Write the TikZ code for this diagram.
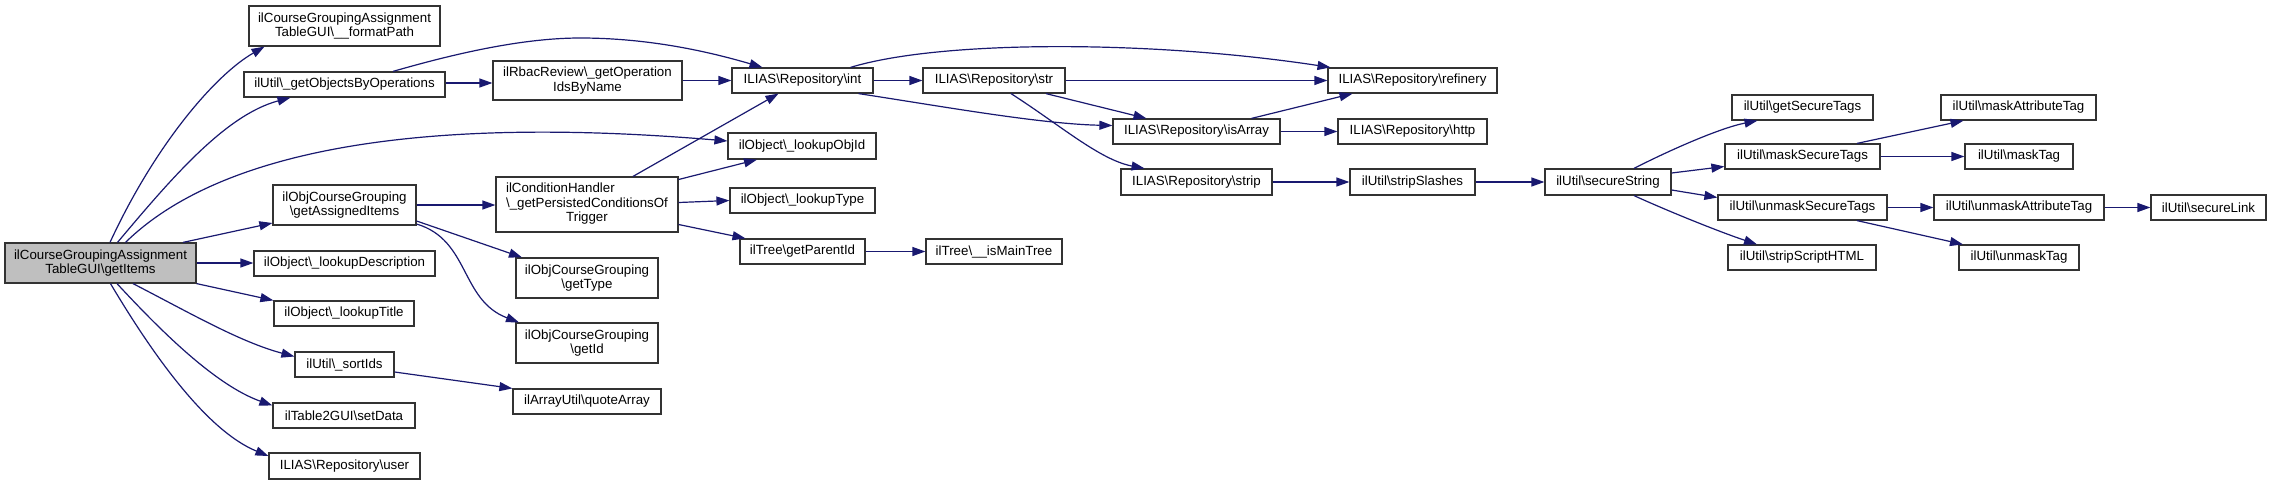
\documentclass[tikz,border=0pt]{standalone}
\usepackage{fontspec}
\setmainfont{Liberation Sans}
\usetikzlibrary{arrows.meta}
\definecolor{edgecol}{HTML}{191970}
\definecolor{greyseventyfive}{HTML}{BFBFBF}
\newcommand{\BSL}{\textbackslash}
\tikzset{
  dbox/.style={draw=black!80, line width=1.2pt, fill=white, inner sep=0pt, align=center,
    font=\fontsize{13.3pt}{14.5pt}\selectfont},
  arr/.style={draw=edgecol, line width=1.2pt, -{Triangle[length=13pt,width=9pt]}}
}
\newcommand{\mkbox}[6]{\node[dbox, minimum width=#4pt, minimum height=#5pt] (#1) at (#2,#3) {#6};}
\begin{document}
\begin{tikzpicture}[x=1pt,y=-1pt]
\fill[white] (0,0) rectangle (2272,485);
\useasboundingbox (0,0) rectangle (2272,485);

\node[dbox, fill=greyseventyfive, minimum width=191pt, minimum height=40pt] (getItems) at (100.5,263) {ilCourseGroupingAssignment\\TableGUI\BSL{}getItems};
\mkbox{formatPath}{344.5}{26}{191}{40}{ilCourseGroupingAssignment\\TableGUI\BSL{}\_\_formatPath}
\mkbox{gobo}{344.5}{84.5}{201}{25}{ilUtil\BSL{}\_getObjectsByOperations}
\mkbox{gai}{344.5}{205}{143}{40}{ilObjCourseGrouping\\\BSL{}getAssignedItems}
\mkbox{ldesc}{344.5}{263.5}{181}{25}{ilObject\BSL{}\_lookupDescription}
\mkbox{ltitle}{344}{313.5}{140}{25}{ilObject\BSL{}\_lookupTitle}
\mkbox{sortIds}{344.5}{364.5}{99}{25}{ilUtil\BSL{}\_sortIds}
\mkbox{setData}{344}{415.5}{142}{25}{ilTable2GUI\BSL{}setData}
\mkbox{user}{344.5}{466}{151}{26}{ILIAS\BSL{}Repository\BSL{}user}
\mkbox{rbac}{587.5}{80.5}{189}{39}{ilRbacReview\BSL{}\_getOperation\\IdsByName}
\mkbox{int}{802.5}{80.5}{141}{25}{ILIAS\BSL{}Repository\BSL{}int}
\mkbox{lobj}{802}{146}{148}{26}{ilObject\BSL{}\_lookupObjId}
\mkbox{cond}{587}{204.5}{182}{55}{\begin{tabular}{@{}l@{}}ilConditionHandler\\\BSL{}\_getPersistedConditionsOf\\\multicolumn{1}{@{}c@{}}{Trigger}\end{tabular}}
\mkbox{ltype}{802.5}{200.5}{145}{25}{ilObject\BSL{}\_lookupType}
\mkbox{gpid}{802.5}{251.5}{125}{25}{ilTree\BSL{}getParentId}
\mkbox{imt}{994}{251.5}{136}{25}{ilTree\BSL{}\_\_isMainTree}
\mkbox{getType}{587}{278}{142}{40}{ilObjCourseGrouping\\\BSL{}getType}
\mkbox{getId}{587}{343}{142}{40}{ilObjCourseGrouping\\\BSL{}getId}
\mkbox{quoteArray}{587}{401.5}{148}{25}{ilArrayUtil\BSL{}quoteArray}
\mkbox{str}{994}{80.5}{142}{25}{ILIAS\BSL{}Repository\BSL{}str}
\mkbox{refinery}{1412.5}{80.5}{169}{25}{ILIAS\BSL{}Repository\BSL{}refinery}
\mkbox{isArray}{1196.5}{131.5}{167}{25}{ILIAS\BSL{}Repository\BSL{}isArray}
\mkbox{http}{1412.5}{131.5}{149}{25}{ILIAS\BSL{}Repository\BSL{}http}
\mkbox{strip}{1196.5}{182}{151}{26}{ILIAS\BSL{}Repository\BSL{}strip}
\mkbox{stripSlashes}{1412.5}{182}{125}{26}{ilUtil\BSL{}stripSlashes}
\mkbox{secureString}{1608}{182}{126}{26}{ilUtil\BSL{}secureString}
\mkbox{getSecureTags}{1802.5}{107.5}{141}{25}{ilUtil\BSL{}getSecureTags}
\mkbox{maskSecureTags}{1802.5}{156.5}{155}{25}{ilUtil\BSL{}maskSecureTags}
\mkbox{unmaskSecureTags}{1802.5}{207.5}{169}{25}{ilUtil\BSL{}unmaskSecureTags}
\mkbox{stripScriptHTML}{1802}{257.5}{148}{25}{ilUtil\BSL{}stripScriptHTML}
\mkbox{maskAttributeTag}{2018.5}{107.5}{155}{25}{ilUtil\BSL{}maskAttributeTag}
\mkbox{maskTag}{2019}{156.5}{108}{25}{ilUtil\BSL{}maskTag}
\mkbox{unmaskAttributeTag}{2019}{207.5}{170}{25}{ilUtil\BSL{}unmaskAttributeTag}
\mkbox{secureLink}{2208.5}{207.5}{115}{25}{ilUtil\BSL{}secureLink}
\mkbox{unmaskTag}{2019}{257.5}{120}{25}{ilUtil\BSL{}unmaskTag}

% edges from getItems
\draw[arr] ([xshift=9.5pt]getItems.north) .. controls (155,145) and (215,75) .. ([xshift=-80pt]formatPath.south);
\draw[arr] ([xshift=17pt]getItems.north) .. controls (170,180) and (225,115) .. ([xshift=-54pt]gobo.south);
\draw[arr] ([xshift=25pt]getItems.north) .. controls (220,150) and (420,115) .. ([yshift=5pt]lobj.west);
\draw[arr] ([xshift=82.5pt]getItems.north) -- ([yshift=-18pt]gai.west);
\draw[arr] (getItems.east) -- (getItems.east -| ldesc.west);
\draw[arr] (getItems.south east) -- (ltitle.north west);
\draw[arr] ([xshift=32.5pt]getItems.south) .. controls (190,313) and (240,342) .. ([yshift=8pt]sortIds.west);
\draw[arr] ([xshift=16.5pt]getItems.south) .. controls (160,330) and (215,385) .. ([yshift=10pt]setData.west);
\draw[arr] ([xshift=10pt]getItems.south) .. controls (150,350) and (205,430) .. ([yshift=10pt]user.west);

% second column
\draw[arr] ([yshift=1.5pt]gobo.east) -- ([yshift=1.5pt]gobo.east -| rbac.west);
\draw[arr] ([xshift=48.5pt]gobo.north) .. controls (450,55) and (520,38) .. (580,38) .. controls (650,38) and (710,52) .. ([xshift=-40pt]int.north);
\draw[arr] (rbac.east) -- (int.west);
\draw[arr] (gai.east) -- (gai.east -| cond.west);
\draw[arr] ([yshift=-16pt]gai.east) -- ([xshift=-65pt]getType.north);
\draw[arr] ([yshift=-19pt]gai.east) .. controls (470,240) and (460,300) .. ([xshift=-68pt]getId.north);
\draw[arr] ([yshift=-7.5pt]sortIds.east) -- (quoteArray.north west);

% third column
\draw[arr] ([xshift=46pt]cond.north) -- ([xshift=-24pt]int.south);
\draw[arr] ([yshift=25pt]cond.east) -- ([xshift=-45pt]lobj.south);
\draw[arr] ([yshift=2pt]cond.east) -- (ltype.west);
\draw[arr] ([yshift=-20pt]cond.east) -- ([xshift=-57pt]gpid.north);
\draw[arr] (gpid.east) -- (imt.west);

% repository
\draw[arr] (int.east) -- (str.west);
\draw[arr] ([xshift=48pt]int.north) .. controls (940,40) and (1150,40) .. ([xshift=-82pt]refinery.north);
\draw[arr] ([xshift=56pt]int.south) .. controls (940,106) and (1040,124) .. ([yshift=6pt]isArray.west);
\draw[arr] (str.east) -- (refinery.west);
\draw[arr] ([xshift=52pt]str.south) -- ([xshift=-50pt]isArray.north);
\draw[arr] ([xshift=17pt]str.south) .. controls (1060,125) and (1100,160) .. ([xshift=-52pt]strip.north);
\draw[arr] ([xshift=55pt]isArray.north) -- ([xshift=-60pt]refinery.south);
\draw[arr] (isArray.east) -- (http.west);
\draw[arr] (strip.east) -- (stripSlashes.west);
\draw[arr] (stripSlashes.east) -- (secureString.west);

% secure string
\draw[arr] ([xshift=26pt]secureString.north) .. controls (1670,150) and (1720,128) .. ([xshift=-45pt]getSecureTags.south);
\draw[arr] ([yshift=9pt]secureString.east) -- ([yshift=-10pt]maskSecureTags.west);
\draw[arr] ([yshift=-8pt]secureString.east) -- ([yshift=10pt]unmaskSecureTags.west);
\draw[arr] ([xshift=26pt]secureString.south) .. controls (1670,212) and (1720,232) .. ([xshift=-45pt]stripScriptHTML.north);
\draw[arr] ([xshift=54.5pt]maskSecureTags.north) -- ([xshift=-55pt]maskAttributeTag.south);
\draw[arr] (maskSecureTags.east) -- (maskTag.west);
\draw[arr] (unmaskSecureTags.east) -- (unmaskAttributeTag.west);
\draw[arr] ([xshift=54.5pt]unmaskSecureTags.south) -- ([xshift=-56pt]unmaskTag.north);
\draw[arr] (unmaskAttributeTag.east) -- (secureLink.west);
\end{tikzpicture}
\end{document}
